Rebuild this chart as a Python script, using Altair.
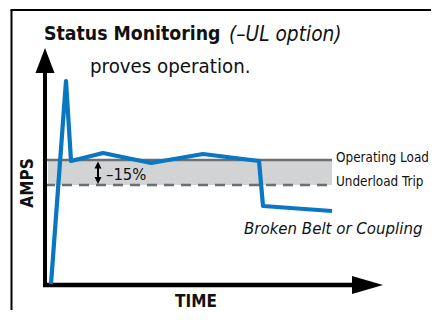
import altair as alt
import pandas as pd

# ---- data (time units / amp units) ----
trace_time = [6, 21, 26, 58, 106, 158, 214, 218, 287]
trace_amps = [1, 204, 124, 132, 122, 131, 124, 79, 74]

operating_load = 125
underload_trip = 100
band_start = 3
band_end = 287

# text annotations
text_str = ["Status Monitoring", "(–UL option)", "proves operation.", "AMPS", "TIME",
            "–15%", "Operating Load", "Underload Trip", "Broken Belt or Coupling"]
text_t = [-1, 184, 45, -17.5, 151, 61, 291, 291, 199]
text_a = [245, 244, 212, 102, -21.5, 105, 123.5, 99.5, 51]
text_style = ["bold", "italic", "regular", "bold", "bold", "regular", "regular", "regular", "italic"]
text_size = [19.3, 20.7, 20.3, 17, 17, 16.5, 13.4, 13.4, 16.7]
text_angle = [0, 0, 0, 270, 0, 0, 0, 0, 0]
text_align = ["left", "left", "left", "center", "center", "left", "left", "left", "left"]

FONT = "DejaVu Sans Condensed"
W, H = 423, 302
xs = alt.Scale(domain=[-37, 386], nice=False, zero=False)
ys = alt.Scale(domain=[-25, 277], nice=False, zero=False)

def X(field="t"):
    return alt.X(f"{field}:Q", scale=xs, axis=None)

def Y(field="a"):
    return alt.Y(f"{field}:Q", scale=ys, axis=None)

BLUE = "#0a77c3"
GRAY = "#6d6e71"
BAND = "#d2d3d5"

# frame
frame_left = alt.Chart(pd.DataFrame({"t": [-33.5], "a": [275], "a2": [-25]})).mark_rule(
    color="black", strokeWidth=2).encode(x=X(), y=Y(), y2="a2:Q")
frame_top = alt.Chart(pd.DataFrame({"t": [-34.5], "t2": [386], "a": [275]})).mark_rule(
    color="black", strokeWidth=2).encode(x=X(), x2="t2:Q", y=Y())

# band between load lines
band = alt.Chart(pd.DataFrame({"t": [band_start], "t2": [band_end],
                               "a": [operating_load], "a2": [underload_trip]})).mark_rect(
    color=BAND).encode(x=X(), x2="t2:Q", y=Y(), y2="a2:Q")

op_line = alt.Chart(pd.DataFrame({"t": [0], "t2": [band_end], "a": [operating_load]})).mark_rule(
    color=GRAY, strokeWidth=2.6).encode(x=X(), x2="t2:Q", y=Y())
ul_line = alt.Chart(pd.DataFrame({"t": [0], "t2": [band_end], "a": [underload_trip]})).mark_rule(
    color=GRAY, strokeWidth=2.6, strokeDash=[10, 7]).encode(x=X(), x2="t2:Q", y=Y())

# axes with arrow heads
y_axis = alt.Chart(pd.DataFrame({"t": [0], "a": [-2], "a2": [213]})).mark_rule(
    color="black", strokeWidth=4).encode(x=X(), y=Y(), y2="a2:Q")
x_axis = alt.Chart(pd.DataFrame({"t": [-2], "t2": [308], "a": [0]})).mark_rule(
    color="black", strokeWidth=4.5).encode(x=X(), x2="t2:Q", y=Y())
y_head = alt.Chart(pd.DataFrame({"t": [0], "a": [224.5]})).mark_point(
    shape="M0,-1L0.76,1L-0.76,1Z", size=625, filled=True, color="black", opacity=1).encode(x=X(), y=Y())
x_head = alt.Chart(pd.DataFrame({"t": [322.5], "a": [0]})).mark_point(
    shape="M1,0L-1,-0.58L-1,0.58Z", size=961, filled=True, color="black", opacity=1).encode(x=X(), y=Y())

# -15% double arrow
dbl_rule = alt.Chart(pd.DataFrame({"t": [53], "a": [105], "a2": [119]})).mark_rule(
    color="black", strokeWidth=2).encode(x=X(), y=Y(), y2="a2:Q")
dbl_up = alt.Chart(pd.DataFrame({"t": [53], "a": [120]})).mark_point(
    shape="M0,-1L1,1L-1,1Z", size=49, filled=True, color="black", opacity=1).encode(x=X(), y=Y())
dbl_dn = alt.Chart(pd.DataFrame({"t": [53], "a": [104.5]})).mark_point(
    shape="M0,1L1,-1L-1,-1Z", size=49, filled=True, color="black", opacity=1).encode(x=X(), y=Y())

# current trace
trace = alt.Chart(pd.DataFrame({"t": trace_time, "a": trace_amps, "o": list(range(len(trace_time)))})).mark_line(
    color=BLUE, strokeWidth=4.2, strokeJoin="round", strokeCap="butt").encode(
    x=X(), y=Y(), order="o:Q")

tdf = pd.DataFrame({"label": text_str, "t": text_t, "a": text_a, "style": text_style,
                    "size": text_size, "angle": text_angle, "align": text_align})

def text_layer(style, align, baseline, weight, fstyle):
    sub = tdf[(tdf["style"] == style) & (tdf["align"] == align)]
    return alt.Chart(sub).mark_text(
        font=FONT, fontWeight=weight, fontStyle=fstyle, align=align, baseline=baseline,
        color="#111111").encode(
        x=X(), y=Y(), text="label:N",
        size=alt.Size("size:Q", scale=None, legend=None),
        angle=alt.Angle("angle:Q", scale=None))

texts = [
    text_layer("bold", "left", "alphabetic", "bold", "normal"),
    text_layer("italic", "left", "alphabetic", "normal", "italic"),
    text_layer("regular", "left", "alphabetic", "normal", "normal"),
]
amps_lbl = alt.Chart(tdf[tdf["label"] == "AMPS"]).mark_text(
    font=FONT, fontWeight="bold", align="center", baseline="middle", color="#111111").encode(
    x=X(), y=Y(), text="label:N",
    size=alt.Size("size:Q", scale=None, legend=None),
    angle=alt.Angle("angle:Q", scale=None))
time_lbl = alt.Chart(tdf[tdf["label"] == "TIME"]).mark_text(
    font=FONT, fontWeight="bold", align="center", baseline="alphabetic", color="#111111").encode(
    x=X(), y=Y(), text="label:N",
    size=alt.Size("size:Q", scale=None, legend=None))

chart = alt.layer(
    frame_left, frame_top, band, op_line, ul_line,
    y_axis, x_axis, y_head, x_head,
    dbl_rule, dbl_up, dbl_dn,
    trace, *texts, amps_lbl, time_lbl
).properties(
    width=W, height=H, autosize=alt.AutoSizeParams(type="none"), padding=0,
    background="white"
).configure_view(stroke=None)

chart.save("out.html", embed_options={"renderer": "svg", "actions": False})
